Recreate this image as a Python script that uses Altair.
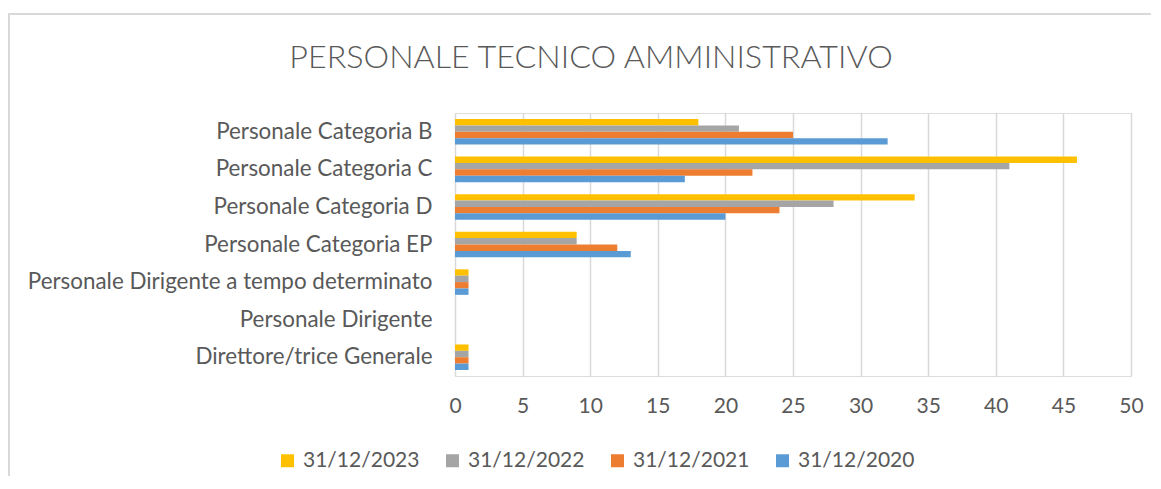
import altair as alt
import pandas as pd

categories = [
    "Personale Categoria B",
    "Personale Categoria C",
    "Personale Categoria D",
    "Personale Categoria EP",
    "Personale Dirigente a tempo determinato",
    "Personale Dirigente",
    "Direttore/trice Generale",
]
series = ["31/12/2023", "31/12/2022", "31/12/2021", "31/12/2020"]
v2023 = [18, 46, 34, 9, 1, 0, 1]
v2022 = [21, 41, 28, 9, 1, 0, 1]
v2021 = [25, 22, 24, 12, 1, 0, 1]
v2020 = [32, 17, 20, 13, 1, 0, 1]
colors = ["#FFC000", "#A5A5A5", "#ED7D31", "#5B9BD5"]
x_ticks = [0, 5, 10, 15, 20, 25, 30, 35, 40, 45, 50]
title_text = "PERSONALE TECNICO AMMINISTRATIVO"

rows = []
for s, vals in zip(series, [v2023, v2022, v2021, v2020]):
    for c, v in zip(categories, vals):
        rows.append({"cat": c, "series": s, "value": v})
df = pd.DataFrame(rows)

FONT = "Lato"
TXT = "#595959"

bars = alt.Chart(df).mark_bar().encode(
    y=alt.Y(
        "cat:N",
        sort=categories,
        title=None,
        scale=alt.Scale(paddingInner=0.32, paddingOuter=0.16),
        axis=alt.Axis(
            domain=False, ticks=False, labelPadding=23, labelLimit=600,
            labelFontSize=22.4, labelColor=TXT, labelFont=FONT,
        ),
    ),
    yOffset=alt.YOffset(
        "series:N", sort=series, scale=alt.Scale(paddingInner=0, paddingOuter=0)
    ),
    x=alt.X(
        "value:Q",
        title=None,
        scale=alt.Scale(domain=[0, 50], nice=False),
        axis=alt.Axis(
            values=x_ticks, domain=False, ticks=False, labelPadding=19,
            labelFlush=False,
            labelFontSize=21, labelColor=TXT, labelFont=FONT,
            grid=True, gridColor="#d9d9d9", gridWidth=1.5,
        ),
    ),
    color=alt.Color(
        "series:N",
        sort=series,
        scale=alt.Scale(domain=series, range=colors),
        legend=alt.Legend(
            title=None, orient="none", direction="horizontal",
            legendX=-178, legendY=337,
            symbolType="square", symbolSize=169, symbolStrokeWidth=0,
            labelFontSize=21, labelColor=TXT, labelFont=FONT,
            labelOffset=5, columnPadding=22,
        ),
    ),
)

single = pd.DataFrame({"t": [title_text]})

border = alt.Chart(single).mark_rect(
    fill=None, stroke="#d9d9d9", strokeWidth=2
).encode(
    x=alt.value(-446), x2=alt.value(712), y=alt.value(-99), y2=alt.value(390)
)

title = alt.Chart(single).mark_text(
    font=FONT, fontSize=32.3, fontWeight=300, color=TXT,
    align="center", baseline="alphabetic",
).encode(text="t:N", x=alt.value(136), y=alt.value(-45))

chart = alt.layer(border, title, bars).properties(
    width=676,
    height=263,
    padding={"left": 447, "top": 105, "right": 20, "bottom": 100},
    autosize=alt.AutoSizeParams(type="none"),
).configure_view(strokeWidth=0).configure(background="white")

chart.save("out.html", embed_options={"renderer": "svg", "actions": False})
